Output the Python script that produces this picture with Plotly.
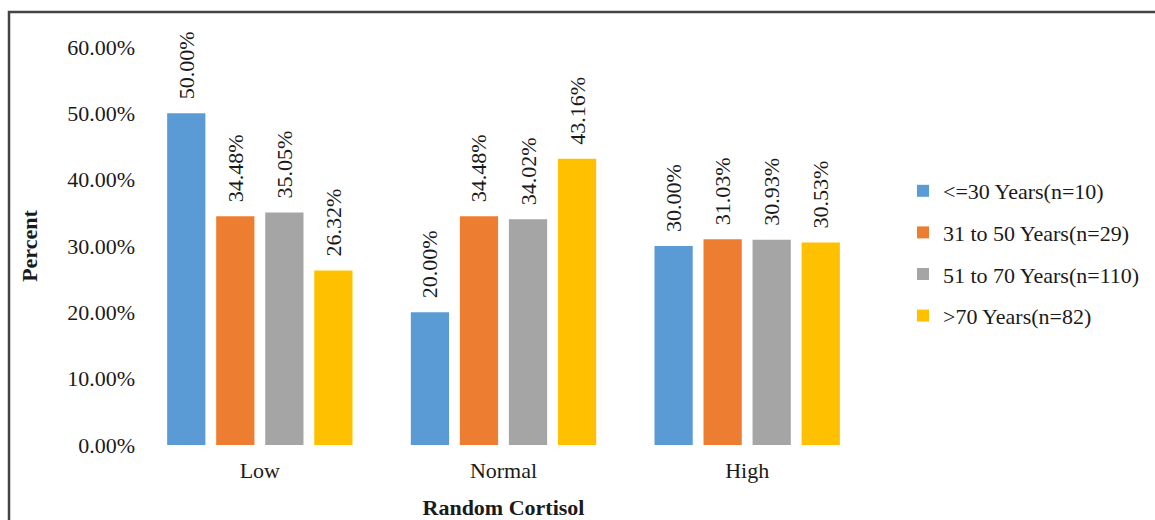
import plotly.graph_objects as go

categories = ["Low", "Normal", "High"]
series_names = [
    "<=30 Years(n=10)",
    "31 to 50 Years(n=29)",
    "51 to 70 Years(n=110)",
    ">70 Years(n=82)",
]
values_le30 = [50.00, 20.00, 30.00]
values_31_50 = [34.48, 34.48, 31.03]
values_51_70 = [35.05, 34.02, 30.93]
values_gt70 = [26.32, 43.16, 30.53]
colors = ["#5B9BD5", "#ED7D31", "#A5A5A5", "#FFC000"]
y_ticks = [0, 10, 20, 30, 40, 50, 60]

font_family = "Liberation Serif, Times New Roman, serif"
fs = 22
text_color = "#1a1a1a"

fig = go.Figure()
for i, (name, vals) in enumerate(zip(series_names, [values_le30, values_31_50, values_51_70, values_gt70])):
    fig.add_trace(go.Bar(
        x=categories, y=vals, name=name,
        marker=dict(color=colors[i], line=dict(width=0)),
        text=[f"\u00a0\u00a0{v:.2f}%" for v in vals],
        textposition="outside", textangle=-90,
        textfont=dict(family=font_family, size=fs, color=text_color),
        cliponaxis=False,
        legendgroup=f"g{i}",
    ))

W, H = 1155, 520
ml, mr, mt, mb = 138, 286, 47, 75
pw, ph = W - ml - mr, H - mt - mb

def px_x(p):
    return (p - ml) / pw

def px_y(p):
    return (H - mb - p) / ph

fig.update_layout(
    width=W, height=H,
    margin=dict(l=ml, r=mr, t=mt, b=mb, autoexpand=False),
    paper_bgcolor="white", plot_bgcolor="white",
    barmode="group", bargap=0.195, bargroupgap=0.22,
    uniformtext=dict(mode="show", minsize=fs),
    font=dict(family=font_family, size=fs, color=text_color),
    xaxis=dict(
        showline=False, showgrid=False, ticks="", automargin=False,
        tickfont=dict(size=fs), ticklabelstandoff=10,
        title=dict(text="<b>Random Cortisol</b>", font=dict(size=fs), standoff=28),
    ),
    yaxis=dict(
        range=[0, 60], tickvals=y_ticks,
        ticktext=[f"{t:.2f}%" for t in y_ticks],
        showline=False, showgrid=False, zeroline=False, ticks="", automargin=False,
        tickfont=dict(size=fs), ticklabelstandoff=2,
        title=dict(text="<b>Percent</b>", font=dict(size=fs), standoff=23),
    ),
    legend=dict(
        x=px_x(903), y=px_y(170), xanchor="left", yanchor="top",
        font=dict(size=fs), tracegroupgap=10, traceorder="grouped",
        itemwidth=30, bgcolor="rgba(0,0,0,0)",
    ),
    showlegend=True,
    shapes=[dict(
        type="rect", xref="paper", yref="paper",
        x0=px_x(9), x1=px_x(1200), y0=px_y(560), y1=px_y(12),
        line=dict(color="#444444", width=2.5), layer="below",
    )],
)

fig.write_html("out.html")
